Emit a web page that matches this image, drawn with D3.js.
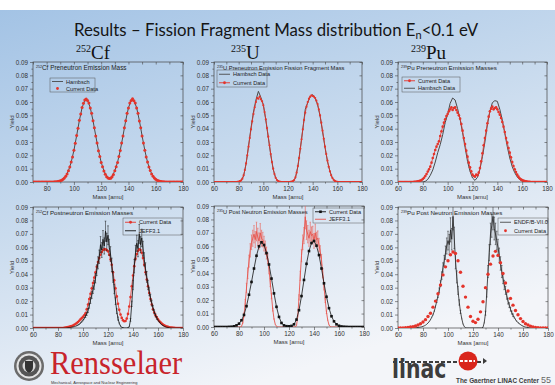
<!DOCTYPE html>
<html>
<head>
<meta charset="utf-8">
<script src="https://cdn.jsdelivr.net/npm/d3@7"></script>
<style>
html, body { margin: 0; padding: 0; background: #fff; overflow: hidden; }
svg { display: block; }
</style>
</head>
<body>
<script>
// tick values shared by all six panels
var xTicks = [60, 80, 100, 120, 140, 160, 180],
	xMinorTicks = [70, 90, 110, 130, 150, 170],
	yTicks = [0, 0.01, 0.02, 0.03, 0.04, 0.05, 0.06, 0.07, 0.08, 0.09],
	yMinorTicks = [0.005, 0.015, 0.025, 0.035, 0.045, 0.055, 0.065, 0.075, 0.085];

// yields in percent; x = start + i*step (mass, amu)
// 252Cf preneutron
var cfPreCurrent = [
	0,0,0,0,0,0,0,0,0,0,
	0,0,0,0,0,0,0.01,0.02,0.03,0.06,
	0.09,0.14,0.21,0.30,0.44,0.60,0.85,1.12,1.50,1.88,
	2.38,2.90,3.49,4.03,4.63,5.10,5.59,5.90,6.15,6.22,
	6.12,5.93,5.55,5.15,4.60,4.07,3.45,2.93,2.35,1.92,
	1.46,1.14,0.82,0.58,0.40,0.30,0.26,0.29,0.40,0.57,
	0.85,1.15,1.47,1.91,2.36,2.93,3.45,4.07,4.60,5.15,
	5.55,5.93,6.12,6.24,6.10,5.92,5.55,5.15,4.58,4.06,
	3.45,2.92,2.38,1.88,1.50,1.12,0.86,0.60,0.44,0.30,
	0.21,0.14,0.09,0.06,0.03,0.02,0.01,0,0,0,
	0,0,0,0,0,0,0,0,0,0,
	0];
var cfPreHambsch = [
	0,0,0,0,0,
	0,0,0,0.01,0.03,
	0.09,0.20,0.43,0.84,1.48,
	2.37,3.47,4.61,5.57,6.13,
	6.13,5.57,4.61,3.47,2.37,
	1.48,0.84,0.43,0.30,0.42,
	0.84,1.48,2.37,3.47,4.61,
	5.57,6.13,6.13,5.57,4.61,
	3.47,2.37,1.48,0.84,0.43,
	0.20,0.09,0.03,0.01,0,
	0,0,0,0,0,
	0];

// 235U preneutron
var uPreCurrent = [
	0,0,0,0,0,0,0,0,0,0,
	0,0,0,0,0,0,0,0,0,0.01,
	0.03,0.06,0.12,0.25,0.50,0.90,1.40,2.00,2.65,3.30,
	3.95,4.55,5.10,5.60,6.00,6.30,6.25,6.40,6.20,6.05,
	5.75,5.25,4.70,4.05,3.40,2.75,2.10,1.50,1.00,0.60,
	0.32,0.15,0.07,0.03,0.01,0,0,0,0,0,
	0,0,0.01,0.03,0.07,0.15,0.35,0.70,1.20,1.80,
	2.50,3.20,3.95,4.65,5.20,5.65,6.00,6.25,6.40,6.50,
	6.45,6.40,6.30,6.10,5.85,5.45,5.00,4.45,3.85,3.25,
	2.65,2.10,1.60,1.15,0.80,0.50,0.30,0.16,0.08,0.03,
	0.01,0,0,0,0,0,0,0,0,0,
	0,0,0,0,0,0,0,0,0,0,
	0];
var uPreHambsch = [
	0,0,0,0,0,
	0,0,0,0,0,
	0.02,0.10,0.45,1.35,2.70,
	4.05,5.25,6.15,6.80,6.35,
	5.80,4.65,3.35,2.05,0.95,
	0.30,0.06,0.01,0,0,
	0,0.01,0.05,0.30,1.15,
	2.50,3.95,5.45,5.95,6.40,
	6.55,6.30,5.80,4.95,3.80,
	2.60,1.55,0.80,0.30,0.08,
	0.02,0,0,0,0,
	0,0,0,0,0,
	0];

// 239Pu preneutron
var puPreCurrent = [
	0,0,0,0,0,0,0,0,0,0,
	0,0,0,0.01,0.02,0.03,0.05,0.07,0.10,0.15,
	0.22,0.32,0.45,0.60,0.78,0.95,1.15,1.45,1.80,2.10,
	2.40,2.65,2.85,3.05,3.45,3.80,4.15,4.45,4.70,4.95,
	5.10,5.30,5.45,5.60,5.40,5.55,5.60,5.40,5.20,5.00,
	4.75,4.35,3.85,3.30,2.85,2.35,1.90,1.45,1.10,0.80,
	0.55,0.45,0.40,0.55,0.50,0.70,1.05,1.55,2.15,2.75,
	3.30,3.85,4.40,4.90,5.30,5.50,5.65,5.45,5.55,5.60,
	5.45,5.25,5.05,4.80,4.50,4.15,3.75,3.30,2.95,2.55,
	2.20,1.85,1.50,1.20,0.95,0.75,0.55,0.40,0.28,0.20,
	0.14,0.10,0.07,0.05,0.03,0.02,0.01,0,0,0,
	0,0,0,0,0,0,0,0,0,0,
	0];
var puPreHambsch = [
	0,0,0,0,0,
	0,0,0,0,0,
	0,0.05,0.20,0.50,0.90,
	1.50,2.20,2.80,3.55,4.45,
	5.10,5.90,6.30,6.15,5.50,
	4.70,3.70,2.60,1.55,0.80,
	0.30,0.12,0.35,0.95,1.90,
	3.00,4.30,5.30,5.95,6.10,
	6.05,5.45,4.65,3.65,2.65,
	1.80,1.15,0.70,0.38,0.18,
	0.07,0.02,0,0,0,
	0,0,0,0,0,
	0];

// 252Cf postneutron
var cfPostCurrent = [
	0,0,0,0,0,0,0,0,0,0,
	0,0,0,0,0,0,0,0,0,0,
	0,0,0,0,0,0.02,0.03,0.05,0.07,0.09,
	0.12,0.15,0.19,0.24,0.30,0.37,0.45,0.54,0.64,0.74,
	0.84,0.95,1.10,1.40,1.75,2.15,2.55,2.95,3.35,3.75,
	4.15,4.55,4.90,5.20,5.45,5.65,5.80,5.85,5.85,5.80,
	5.70,5.45,5.10,4.70,4.15,3.55,2.95,2.35,1.80,1.35,
	1.00,0.75,0.58,0.50,0.52,0.70,1.05,1.60,2.30,3.10,
	3.90,4.60,5.15,5.50,5.75,5.85,5.80,5.60,5.20,4.70,
	4.15,3.60,3.10,2.60,2.15,1.75,1.40,1.15,0.95,0.80,
	0.65,0.52,0.42,0.33,0.26,0.20,0.15,0.11,0.08,0.06,
	0.04,0.03,0.02,0.01,0,0,0,0,0,0,
	0];
var cfPostJeff = [
	0,0,0,0,0,0,0,0,0,0,
	0,0,0,0,0,0,0,0,0,0,
	0,0,0,0,0,0,0,0.01,0.02,0.03,
	0.04,0.06,0.08,0.10,0.13,0.17,0.22,0.28,0.36,0.46,
	0.58,0.72,0.88,1.05,1.30,1.65,2.05,2.45,2.85,3.20,
	3.70,4.30,4.85,5.30,6.20,5.80,6.60,6.10,7.20,6.40,
	6.90,6.00,5.50,4.70,3.80,2.90,2.00,1.25,0.70,0.35,
	0.15,0.05,0.02,0,0,0,0.02,0.10,0.60,1.80,
	3.20,4.60,5.60,6.30,5.90,7.00,6.20,6.70,5.90,5.10,
	4.40,3.80,3.20,2.70,2.25,1.85,1.50,1.20,0.95,0.75,
	0.58,0.45,0.34,0.25,0.18,0.13,0.09,0.06,0.04,0.02,
	0.01,0,0,0,0,0,0,0,0,0,
	0];
var cfPostJeffErr = [
	0,0,0,0,0,0,0,0,0,0,
	0,0,0,0,0,0,0,0,0,0,
	0,0,0,0,0,0,0,0,0,0,
	0,0,0,0,0,0.03,0.04,0.05,0.06,0.07,
	0.08,0.09,0.10,0.12,0.15,0.18,0.22,0.25,0.28,0.32,
	0.35,0.40,0.45,0.50,0.60,0.55,0.65,0.60,0.75,0.65,
	0.70,0.60,0.55,0.50,0.40,0.35,0.25,0.18,0.12,0.08,
	0.05,0.03,0.02,0,0,0,0.02,0.05,0.10,0.20,
	0.35,0.50,0.55,0.60,0.60,0.70,0.60,0.65,0.55,0.50,
	0.45,0.40,0.35,0.30,0.26,0.22,0.18,0.15,0.12,0.10,
	0.08,0.06,0.05,0.04,0.03,0.02,0.02,0.01,0.01,0,
	0,0,0,0,0,0,0,0,0,0,
	0];

// 235U postneutron
var uPostCurrent = [
	0,0,0,0,0,
	0,0.01,0.02,0.05,0.12,
	0.25,0.50,0.90,1.55,2.40,
	3.35,4.35,5.30,6.00,6.30,
	6.10,5.50,4.65,3.60,2.50,
	1.50,0.75,0.30,0.12,0.06,
	0.05,0.08,0.20,0.55,1.25,
	2.30,3.50,4.70,5.65,6.25,
	6.40,6.05,5.35,4.35,3.25,
	2.25,1.40,0.80,0.42,0.20,
	0.09,0.04,0.02,0.01,0,
	0,0,0,0,0,
	0];
var uPostJeff = [
	0,0,0,0,0,0,0,0,0,0,
	0,0,0,0,0,0,0,0,0,0,
	0,0,0.05,0.30,0.90,1.80,2.90,4.00,4.90,5.70,
	6.30,6.60,6.90,6.50,7.10,6.70,6.40,7.00,6.60,6.50,
	6.20,5.90,5.50,5.10,4.30,3.30,2.30,1.30,0.60,0.20,
	0.05,0,0,0,0,0,0,0,0,0,
	0,0,0,0,0,0,0.10,0.80,2.20,3.80,
	5.30,6.30,6.80,8.20,7.20,6.90,6.60,7.10,6.80,6.90,
	6.40,7.00,6.50,6.60,6.10,5.60,5.00,4.00,3.00,2.00,
	1.10,0.50,0.15,0.03,0,0,0,0,0,0,
	0,0,0,0,0,0,0,0,0,0,
	0,0,0,0,0,0,0,0,0,0,
	0];
var uPostJeffErr = [
	0,0,0,0,0,0,0,0,0,0,
	0,0,0,0,0,0,0,0,0,0,
	0,0,0.02,0.08,0.15,0.25,0.35,0.40,0.45,0.50,
	0.55,0.60,0.65,0.60,0.70,0.65,0.60,0.70,0.60,0.55,
	0.55,0.50,0.45,0.40,0.35,0.30,0.20,0.12,0.06,0.02,
	0,0,0,0,0,0,0,0,0,0,
	0,0,0,0,0,0,0.02,0.08,0.20,0.35,
	0.45,0.55,0.60,0.90,0.70,0.65,0.60,0.70,0.65,0.60,
	0.55,0.65,0.55,0.55,0.50,0.45,0.40,0.35,0.25,0.18,
	0.10,0.05,0.02,0.01,0,0,0,0,0,0,
	0,0,0,0,0,0,0,0,0,0,
	0,0,0,0,0,0,0,0,0,0,
	0];

// 239Pu postneutron
var puPostCurrent = [
	0,0,0.01,0.02,0.04,
	0.07,0.10,0.15,0.22,0.32,
	0.45,0.62,0.85,1.10,1.55,
	2.00,2.55,3.20,3.95,4.55,
	5.00,5.45,5.65,5.55,5.00,
	4.15,3.10,2.30,1.55,0.85,
	0.50,0.40,0.65,1.20,1.95,
	3.00,4.00,4.75,5.35,5.70,
	5.40,4.85,4.05,3.35,2.75,
	2.20,1.70,1.30,0.98,0.70,
	0.48,0.32,0.22,0.14,0.08,
	0.04,0.02,0.01,0,0,
	0];
var puPostEndf = [
	0,0,0,0,0,0,0,0,0,0,
	0,0,0,0.01,0.02,0.03,0.04,0.05,0.07,0.09,
	0.12,0.16,0.21,0.28,0.37,0.48,0.62,0.80,0.98,1.25,
	1.60,2.00,2.40,2.80,3.30,3.90,4.50,5.00,5.60,6.10,
	6.50,6.20,7.30,6.60,8.30,6.70,5.00,3.80,2.80,1.90,
	1.20,0.70,0.30,0.10,0.03,0,0,0,0,0,
	0,0,0,0,0,0,0,0,0.05,0.40,
	1.10,2.60,4.20,5.60,7.00,7.60,8.30,7.40,7.00,6.50,
	6.00,5.40,4.80,4.20,3.70,3.20,2.80,2.40,2.00,1.70,
	1.40,1.15,0.95,0.78,0.63,0.50,0.40,0.32,0.25,0.19,
	0.14,0.10,0.07,0.05,0.03,0.02,0.01,0,0,0,
	0,0,0,0,0,0,0,0,0,0,
	0];
var puPostEndfErr = [
	0,0,0,0,0,0,0,0,0,0,
	0,0,0,0,0,0,0,0,0,0,
	0,0,0,0,0,0.02,0.03,0.04,0.05,0.06,
	0.08,0.10,0.14,0.18,0.22,0.28,0.35,0.40,0.50,0.60,
	0.70,0.75,0.90,0.80,1.00,0.80,0.60,0.45,0.30,0.20,
	0.12,0.06,0.03,0.01,0,0,0,0,0,0,
	0,0,0,0,0,0,0,0,0.02,0.06,
	0.15,0.30,0.45,0.60,0.80,0.85,1.00,0.85,0.80,0.70,
	0.60,0.55,0.50,0.45,0.40,0.35,0.30,0.26,0.22,0.18,
	0.15,0.12,0.10,0.08,0.06,0.05,0.04,0.03,0.02,0.02,
	0.01,0.01,0,0,0,0,0,0,0,0,
	0,0,0,0,0,0,0,0,0,0,
	0];

var red = "#e4342b", dark = "#333333", gray = "#4a4a4a",
	axisFont = "'Liberation Sans', Arial, sans-serif";

function toPoints(start, step, vals, errs) {
	return vals.map(function (v, i) {
		return { m: start + i * step, v: v / 100, e: errs ? errs[i] / 100 : 0 };
	});
}

var panels = [
	{ id: 1, left: 33, right: 183, top: 62, bottom: 182, xDomain: [70, 180],
	  iso: "252", title: "Cf Preneutron Emission Mass", titleSize: 6.4,
	  layers: [
		{ kind: "line", pts: toPoints(70, 2, cfPreHambsch), color: gray, width: 1 },
		{ kind: "dots", pts: toPoints(70, 1, cfPreCurrent), color: red, r: 1.5 }
	  ],
	  legend: { x: 50, y: 78, w: 45, h: 14, items: [
		{ label: "Hambsch", kind: "line", color: gray },
		{ label: "Current Data", kind: "dot", color: red } ] } },
	{ id: 2, left: 214, right: 362, top: 62, bottom: 182, xDomain: [60, 180],
	  iso: "235", title: "U Preneutron Emission Fission Fragment Mass", titleSize: 5.8,
	  layers: [
		{ kind: "line", pts: toPoints(60, 2, uPreHambsch), color: gray, width: 1 },
		{ kind: "line", pts: toPoints(60, 1, uPreCurrent), color: red, width: 0.8 },
		{ kind: "dots", pts: toPoints(60, 1, uPreCurrent), color: red, r: 1.1 }
	  ],
	  legend: { x: 217, y: 70, w: 50, h: 17, items: [
		{ label: "Hambsch Data", kind: "line", color: gray },
		{ label: "Current Data", kind: "linedot", color: red } ] } },
	{ id: 3, left: 398, right: 547, top: 62, bottom: 182, xDomain: [60, 180],
	  iso: "239", title: "Pu Preneutron Emission Masses", titleSize: 6.2,
	  layers: [
		{ kind: "line", pts: toPoints(60, 2, puPreHambsch), color: gray, width: 1 },
		{ kind: "line", pts: toPoints(60, 1, puPreCurrent), color: red, width: 0.8 },
		{ kind: "dots", pts: toPoints(60, 1, puPreCurrent), color: red, r: 1.3 }
	  ],
	  legend: { x: 402, y: 77, w: 58, h: 15, items: [
		{ label: "Current Data", kind: "linedot", color: red },
		{ label: "Hambsch Data", kind: "line", color: gray } ] } },
	{ id: 4, left: 33, right: 183, top: 207, bottom: 328, xDomain: [60, 180],
	  iso: "252", title: "Cf Postneutron Emission Masses", titleSize: 6.2,
	  layers: [
		{ kind: "line", pts: toPoints(60, 1, cfPostCurrent), color: red, width: 0.8 },
		{ kind: "dots", pts: toPoints(60, 1, cfPostCurrent), color: red, r: 1.3 },
		{ kind: "err", pts: toPoints(60, 1, cfPostJeff, cfPostJeffErr), color: "#111", width: 0.5 },
		{ kind: "line", pts: toPoints(60, 1, cfPostJeff), color: "#111", width: 0.8 }
	  ],
	  legend: { x: 123, y: 218, w: 59, h: 17, items: [
		{ label: "Current Data", kind: "linedot", color: red },
		{ label: "JEFF3.1", kind: "line", color: "#111" } ] } },
	{ id: 5, left: 214, right: 364, top: 206, bottom: 327, xDomain: [60, 180],
	  iso: "235", title: "U Post Neutron Emission Masses", titleSize: 5.7,
	  layers: [
		{ kind: "err", pts: toPoints(60, 1, uPostJeff, uPostJeffErr), color: "#ea6a62", width: 0.7 },
		{ kind: "line", pts: toPoints(60, 1, uPostJeff), color: "#e8544c", width: 0.9 },
		{ kind: "line", pts: toPoints(60, 2, uPostCurrent), color: "#111", width: 0.8 },
		{ kind: "squares", pts: toPoints(60, 2, uPostCurrent), color: "#111", s: 2.6 }
	  ],
	  legend: { x: 313, y: 208, w: 51, h: 15, items: [
		{ label: "Current Data", kind: "linesquare", color: "#111" },
		{ label: "JEFF3.1", kind: "line", color: "#e8544c" } ] } },
	{ id: 6, left: 398, right: 548, top: 207, bottom: 328, xDomain: [60, 180],
	  iso: "239", title: "Pu Post Neutron Emission Masses", titleSize: 6.2,
	  layers: [
		{ kind: "err", pts: toPoints(60, 1, puPostEndf, puPostEndfErr), color: "#222", width: 0.5 },
		{ kind: "line", pts: toPoints(60, 1, puPostEndf), color: "#222", width: 0.8 },
		{ kind: "dots", pts: toPoints(60, 2, puPostCurrent), color: red, r: 1.7 }
	  ],
	  legend: { x: 498, y: 218, w: 50, h: 17, items: [
		{ label: "ENDF/B-VII.0", kind: "line", color: gray },
		{ label: "Current Data", kind: "dot", color: red } ] } }
];

var svg = d3.select("body").append("svg")
	.attr("width", 555)
	.attr("height", 385);

var defs = svg.append("defs");
var grad = defs.append("linearGradient").attr("id", "bg")
	.attr("x1", 0).attr("y1", 0).attr("x2", 0.45).attr("y2", 1);
grad.append("stop").attr("offset", 0).attr("stop-color", "#a3c3e5");
grad.append("stop").attr("offset", 0.5).attr("stop-color", "#c9dbee");
grad.append("stop").attr("offset", 1).attr("stop-color", "#f3f5f9");

svg.append("rect").attr("width", 555).attr("height", 385).attr("fill", "#fff");
svg.append("rect").attr("y", 10).attr("width", 555).attr("height", 375).attr("fill", "url(#bg)");

// title
var title = svg.append("text")
	.attr("x", 276).attr("y", 36)
	.attr("text-anchor", "middle")
	.attr("font-family", "Lato, 'Open Sans', sans-serif")
	.attr("font-size", 16.8)
	.attr("fill", "#151515");
title.append("tspan").text("Results \u2013 Fission Fragment Mass distribution E");
title.append("tspan").attr("dy", 3).attr("font-size", 11).text("n");
title.append("tspan").attr("dy", -3).text("<0.1 eV");

// isotope headers
[{ iso: "252", el: "Cf", x: 76 }, { iso: "235", el: "U", x: 231 }, { iso: "239", el: "Pu", x: 411 }]
	.forEach(function (h) {
		var t = svg.append("text")
			.attr("x", h.x).attr("y", 59)
			.attr("font-family", "'Liberation Serif', 'Times New Roman', serif")
			.attr("fill", "#111");
		t.append("tspan").attr("font-size", 10).attr("dy", -7).text(h.iso);
		t.append("tspan").attr("font-size", 19).attr("dy", 7).text(h.el);
	});

function styleAxis(sel) {
	sel.select(".domain").remove();
	sel.selectAll("line").attr("stroke", "#444").attr("stroke-width", 0.6);
	sel.selectAll("text")
		.attr("font-family", axisFont)
		.attr("font-size", 6.3)
		.attr("fill", "#333");
}

function drawPanel(p) {
	var x = d3.scaleLinear().domain(p.xDomain).range([p.left, p.right]);
	var y = d3.scaleLinear().domain([0, 0.09]).range([p.bottom, p.top]);
	var g = svg.append("g");

	defs.append("clipPath").attr("id", "clip" + p.id).append("rect")
		.attr("x", p.left).attr("y", p.top)
		.attr("width", p.right - p.left).attr("height", p.bottom - p.top);

	var inX = function (t) { return t >= p.xDomain[0] && t <= p.xDomain[1]; };
	var xMaj = xTicks.filter(inX), xMin = xMinorTicks.filter(inX);

	g.append("g").attr("transform", "translate(0," + p.bottom + ")")
		.call(d3.axisBottom(x).tickValues(xMaj).tickSize(3).tickPadding(2).tickFormat(d3.format("d")))
		.call(styleAxis);
	g.append("g").attr("transform", "translate(0," + p.bottom + ")")
		.call(d3.axisBottom(x).tickValues(xMin).tickSize(1.6).tickFormat(""))
		.call(styleAxis);
	g.append("g").attr("transform", "translate(0," + p.top + ")")
		.call(d3.axisTop(x).tickValues(xMaj.concat(xMin)).tickSize(-2.5).tickFormat(""))
		.call(styleAxis);
	g.append("g").attr("transform", "translate(" + p.left + ",0)")
		.call(d3.axisLeft(y).tickValues(yTicks).tickSize(3).tickPadding(2).tickFormat(d3.format(".2f")))
		.call(styleAxis);
	g.append("g").attr("transform", "translate(" + p.left + ",0)")
		.call(d3.axisLeft(y).tickValues(yMinorTicks).tickSize(1.6).tickFormat(""))
		.call(styleAxis);
	g.append("g").attr("transform", "translate(" + p.right + ",0)")
		.call(d3.axisRight(y).tickValues(yTicks).tickSize(-2.5).tickFormat(""))
		.call(styleAxis);

	g.append("rect")
		.attr("x", p.left).attr("y", p.top)
		.attr("width", p.right - p.left).attr("height", p.bottom - p.top)
		.attr("fill", "none").attr("stroke", "#444").attr("stroke-width", 0.7);

	// axis titles
	g.append("text")
		.attr("x", (p.left + p.right) / 2).attr("y", p.bottom + 16.5)
		.attr("text-anchor", "middle")
		.attr("font-family", axisFont).attr("font-size", 6).attr("fill", "#333")
		.text("Mass [amu]");
	g.append("text")
		.attr("transform", "translate(" + (p.left - 19) + "," + ((p.top + p.bottom) / 2) + ") rotate(-90)")
		.attr("text-anchor", "middle")
		.attr("font-family", axisFont).attr("font-size", 6).attr("fill", "#333")
		.text("Yield");

	// data
	var plot = g.append("g").attr("clip-path", "url(#clip" + p.id + ")");
	p.layers.forEach(function (L) {
		if (L.kind === "line") {
			plot.append("path")
				.datum(L.pts)
				.attr("fill", "none")
				.attr("stroke", L.color)
				.attr("stroke-width", L.width)
				.attr("stroke-linejoin", "round")
				.attr("d", d3.line().x(function (d) { return x(d.m); }).y(function (d) { return y(d.v); }));
		} else if (L.kind === "dots") {
			plot.selectAll(null)
				.data(L.pts)
				.enter().append("circle")
				.attr("cx", function (d) { return x(d.m); })
				.attr("cy", function (d) { return y(d.v); })
				.attr("r", L.r)
				.attr("fill", L.color);
		} else if (L.kind === "squares") {
			plot.selectAll(null)
				.data(L.pts)
				.enter().append("rect")
				.attr("x", function (d) { return x(d.m) - L.s / 2; })
				.attr("y", function (d) { return y(d.v) - L.s / 2; })
				.attr("width", L.s).attr("height", L.s)
				.attr("fill", L.color);
		} else if (L.kind === "err") {
			var withErr = L.pts.filter(function (d) { return d.e > 0; });
			plot.selectAll(null)
				.data(withErr)
				.enter().append("line")
				.attr("x1", function (d) { return x(d.m); })
				.attr("x2", function (d) { return x(d.m); })
				.attr("y1", function (d) { return y(d.v - d.e); })
				.attr("y2", function (d) { return y(d.v + d.e); })
				.attr("stroke", L.color).attr("stroke-width", L.width);
			plot.selectAll(null)
				.data(withErr.filter(function (d) { return d.e >= 0.001; }))
				.enter().append("path")
				.attr("d", function (d) {
					var cx = x(d.m), a = y(d.v + d.e), b = y(d.v - d.e);
					return "M" + (cx - 0.8) + "," + a + "h1.6M" + (cx - 0.8) + "," + b + "h1.6";
				})
				.attr("stroke", L.color).attr("stroke-width", 0.5);
		}
	});

	// panel title
	var t = g.append("text")
		.attr("x", p.left + 3).attr("y", p.top + 8)
		.attr("font-family", axisFont).attr("fill", "#222");
	t.append("tspan").attr("font-size", 3.6).attr("dy", -2).text(p.iso);
	t.append("tspan").attr("font-size", p.titleSize).attr("dy", 2).text(p.title);

	// legend
	var lg = p.legend;
	var lgG = g.append("g");
	lgG.append("rect")
		.attr("x", lg.x).attr("y", lg.y).attr("width", lg.w).attr("height", lg.h)
		.attr("fill", "none").attr("stroke", "#555").attr("stroke-width", 0.5);
	var rowH = lg.h / lg.items.length;
	lg.items.forEach(function (it, i) {
		var cy = lg.y + rowH * i + rowH / 2;
		if (it.kind === "line" || it.kind === "linedot" || it.kind === "linesquare") {
			lgG.append("line")
				.attr("x1", lg.x + 2).attr("x2", lg.x + 13)
				.attr("y1", cy).attr("y2", cy)
				.attr("stroke", it.color).attr("stroke-width", 0.9);
		}
		if (it.kind === "dot" || it.kind === "linedot") {
			lgG.append("circle").attr("cx", lg.x + 7.5).attr("cy", cy).attr("r", 1.4).attr("fill", it.color);
		}
		if (it.kind === "linesquare") {
			lgG.append("rect").attr("x", lg.x + 6.2).attr("y", cy - 1.3).attr("width", 2.6).attr("height", 2.6).attr("fill", it.color);
		}
		lgG.append("text")
			.attr("x", lg.x + 16).attr("y", cy + 2)
			.attr("font-family", axisFont).attr("font-size", 5.6).attr("fill", "#222")
			.text(it.label);
	});
}

panels.forEach(drawPanel);

// footer: Rensselaer mark
var seal = svg.append("g");
seal.append("circle").attr("cx", 29).attr("cy", 366).attr("r", 15).attr("fill", "#6b6b6b");
seal.append("circle").attr("cx", 29).attr("cy", 366).attr("r", 12.5).attr("fill", "#e4e4e4");
seal.append("circle").attr("cx", 29).attr("cy", 366).attr("r", 10.5).attr("fill", "#555");
seal.append("circle").attr("cx", 29).attr("cy", 366).attr("r", 6.5).attr("fill", "#d8d8d8");
seal.append("path").attr("d", "M25,361h8v6q0,4,-4,6q-4,-2,-4,-6z").attr("fill", "#333");
svg.append("text")
	.attr("transform", "translate(50,374) scale(1,1.08)")
	.attr("font-family", "'Liberation Serif', 'Times New Roman', serif")
	.attr("font-size", 30.5)
	.attr("fill", "#c8242b")
	.text("Rensselaer");
svg.append("text")
	.attr("x", 51).attr("y", 384)
	.attr("font-family", axisFont).attr("font-size", 4).attr("fill", "#333")
	.text("Mechanical, Aerospace and Nuclear Engineering");

// footer: linac mark
svg.append("text")
	.attr("transform", "translate(392,378) scale(0.84,1)")
	.attr("font-family", "'DejaVu Sans Condensed', 'DejaVu Sans', sans-serif")
	.attr("font-weight", "bold")
	.attr("font-size", 27)
	.attr("fill", "#3c3c3c")
	.text("linac");
svg.append("path")
	.attr("d", "M393,362h90")
	.attr("stroke", "#3c3c3c").attr("stroke-width", 2.2).attr("stroke-dasharray", "4,2");
svg.append("circle").attr("cx", 468).attr("cy", 361).attr("r", 9.5).attr("fill", "#d9261c");
svg.append("path").attr("d", "M460,361h15").attr("stroke", "#fff").attr("stroke-width", 2).attr("stroke-dasharray", "3,1.5");
svg.append("path").attr("d", "M483,358l4,3l-4,3z").attr("fill", "#3c3c3c");
svg.append("text")
	.attr("x", 456).attr("y", 383)
	.attr("font-family", axisFont).attr("font-weight", "bold").attr("font-size", 6.4)
	.attr("fill", "#3c3c3c")
	.text("The Gaertner LINAC Center");
svg.append("text")
	.attr("x", 541).attr("y", 383)
	.attr("font-family", axisFont).attr("font-size", 9).attr("fill", "#666")
	.text("55");
</script>
</body>
</html>
